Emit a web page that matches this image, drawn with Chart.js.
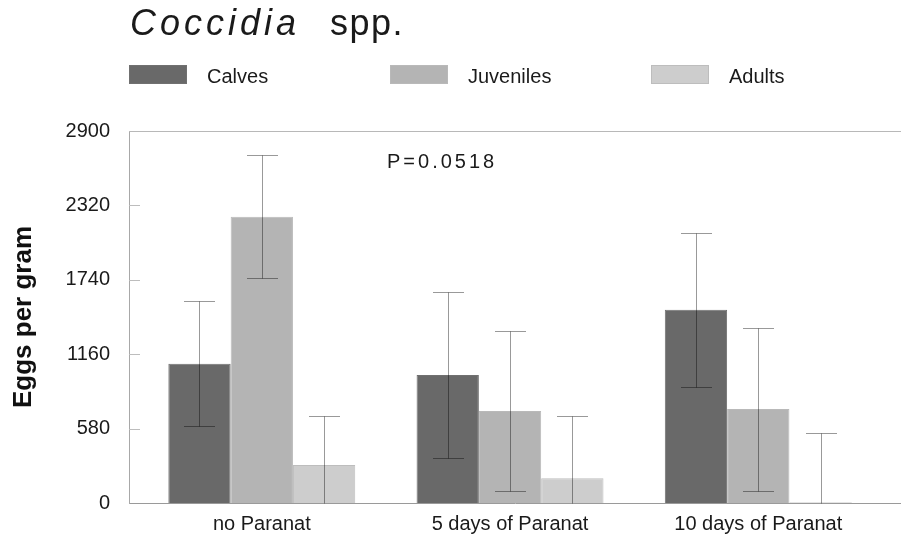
<!DOCTYPE html>
<html>
<head>
<meta charset="utf-8">
<script src="https://cdn.jsdelivr.net/npm/chart.js@4.4.1/dist/chart.umd.min.js"></script>
<style>
html,body{margin:0;padding:0;background:#fff;}
#wrap{position:relative;width:901px;height:535px;overflow:hidden;font-family:"Liberation Sans",Arial,Helvetica,sans-serif;color:#1a1a1a;}
#c{position:absolute;left:0;top:0;}
.t{position:absolute;white-space:nowrap;}
.lbox{position:absolute;width:58px;height:19px;box-sizing:border-box;}
</style>
</head>
<body>
<div id="wrap">
  <canvas id="c" width="901" height="535"></canvas>
  <div class="t" style="left:130px;top:3px;font-size:36px;line-height:40px;font-style:italic;letter-spacing:4px;">Coccidia</div>
  <div class="t" style="left:330px;top:3px;font-size:36px;line-height:40px;letter-spacing:1.5px;">spp.</div>
  <div id="legend"></div>
  <div class="t" id="pval" style="left:387px;top:150px;font-size:20px;line-height:22px;letter-spacing:3px;">P=0.0518</div>
</div>
<script>
// ---- data ----
const categories = ["no Paranat", "5 days of Paranat", "10 days of Paranat"];
const seriesNames = ["Calves", "Juveniles", "Adults"];
const calves = [1085, 998, 1506];
const calvesErr = [488, 650, 602];
const juveniles = [2232, 718, 732];
const juvenilesErr = [480, 625, 636];
const adults = [297, 193, 6];
const adultsErr = [381, 487, 537];
const yTicks = [0, 580, 1160, 1740, 2320, 2900];

// ---- styles ----
const fillColors = ["#696969", "#b4b4b4", "#cdcdcd"];
const edgeColors = ["#707070", "#b9b9b9", "#bdbdbd"];
const legendX = [129, 390, 651];

const FONT = '"Liberation Sans", Arial, Helvetica, sans-serif';

// legend (HTML)
const lg = document.getElementById('legend');
seriesNames.forEach((n, i) => {
  const b = document.createElement('div');
  b.className = 'lbox';
  b.style.left = legendX[i] + 'px';
  b.style.top = '65px';
  b.style.background = fillColors[i];
  b.style.border = '1px solid ' + edgeColors[i];
  lg.appendChild(b);
  const t = document.createElement('div');
  t.className = 't';
  t.style.left = (legendX[i] + 78) + 'px';
  t.style.top = '65px';
  t.style.fontSize = '20px';
  t.style.lineHeight = '22px';
  t.textContent = n;
  lg.appendChild(t);
});

const seriesVals = [calves, juveniles, adults];
const seriesErrs = [calvesErr, juvenilesErr, adultsErr];

const datasets = seriesNames.map((n, s) => ({
  label: n,
  data: categories.map((c, i) => ({ x: i, y: seriesVals[s][i] })),
  err: seriesErrs[s],
  backgroundColor: fillColors[s],
  borderColor: edgeColors[s],
  borderWidth: 1,
  categoryPercentage: 0.753,
  barPercentage: 1.0
}));

const errPlugin = {
  id: 'errbars',
  afterDatasetsDraw(chart) {
    const ctx = chart.ctx, ys = chart.scales.y;
    ctx.save();
    ctx.globalCompositeOperation = 'multiply';
    ctx.strokeStyle = '#999999';
    ctx.lineWidth = 1;
    chart.data.datasets.forEach((ds, di) => {
      const meta = chart.getDatasetMeta(di);
      meta.data.forEach((bar, i) => {
        const v = ds.data[i].y, e = ds.err[i];
        const x = Math.round(bar.x) + 0.5;
        const yt = Math.round(ys.getPixelForValue(v + e)) + 0.5;
        const lo = v - e;
        const yb = Math.round(ys.getPixelForValue(Math.max(lo, 0))) + 0.5;
        ctx.beginPath();
        ctx.moveTo(x, yt); ctx.lineTo(x, yb);
        ctx.moveTo(x - 15.5, yt); ctx.lineTo(x + 15.5, yt);
        if (lo > 0) { ctx.moveTo(x - 15.5, yb); ctx.lineTo(x + 15.5, yb); }
        ctx.stroke();
      });
    });
    ctx.restore();
  }
};

const framePlugin = {
  id: 'frame',
  afterDatasetsDraw(chart) {
    const ctx = chart.ctx, a = chart.chartArea, ys = chart.scales.y;
    ctx.save();
    ctx.lineWidth = 1;
    ctx.strokeStyle = '#b8b8b8';
    ctx.beginPath();
    const yTop = Math.round(ys.getPixelForValue(yTicks[yTicks.length - 1])) + 0.5;
    ctx.moveTo(a.left, yTop); ctx.lineTo(chart.width, yTop);
    ctx.stroke();
    ctx.strokeStyle = '#bdbdbd';
    ctx.beginPath();
    yTicks.slice(1, -1).forEach(t => {
      const py = Math.round(ys.getPixelForValue(t)) + 0.5;
      ctx.moveTo(a.left, py); ctx.lineTo(a.left + 11, py);
    });
    ctx.stroke();
    ctx.restore();
  }
};

new Chart(document.getElementById('c'), {
  type: 'bar',
  data: { datasets },
  options: {
    responsive: false,
    animation: false,
    devicePixelRatio: 1,
    layout: { padding: { top: 131, left: 0, right: 0, bottom: 0 } },
    plugins: { legend: { display: false }, title: { display: false }, tooltip: { enabled: false } },
    scales: {
      x: {
        type: 'linear',
        min: -0.535,
        max: 2.575,
        offset: false,
        grid: { display: false, drawTicks: false },
        border: { display: true, color: '#9a9a9a', width: 1 },
        afterBuildTicks: (s) => { s.ticks = categories.map((c, i) => ({ value: i })); },
        afterFit: (s) => { s.height = 32; },
        ticks: {
          autoSkip: false,
          maxRotation: 0,
          padding: 9,
          color: '#1a1a1a',
          font: { family: FONT, size: 20 },
          callback: (v) => categories[v] !== undefined ? categories[v] : ''
        }
      },
      y: {
        min: yTicks[0],
        max: yTicks[yTicks.length - 1],
        grid: { display: false, drawTicks: false },
        border: { display: true, color: '#a8a8a8', width: 1 },
        afterBuildTicks: (s) => { s.ticks = yTicks.map(v => ({ value: v })); },
        afterFit: (s) => { s.width = 129; },
        ticks: {
          padding: 19,
          color: '#1a1a1a',
          font: { family: FONT, size: 20 },
          callback: (v) => String(v)
        },
        title: {
          display: true,
          text: 'Eggs per gram',
          color: '#111',
          font: { family: FONT, size: 26, weight: 'bold' },
          padding: { top: 8, bottom: 0 }
        }
      }
    }
  },
  plugins: [errPlugin, framePlugin]
});
</script>
</body>
</html>
